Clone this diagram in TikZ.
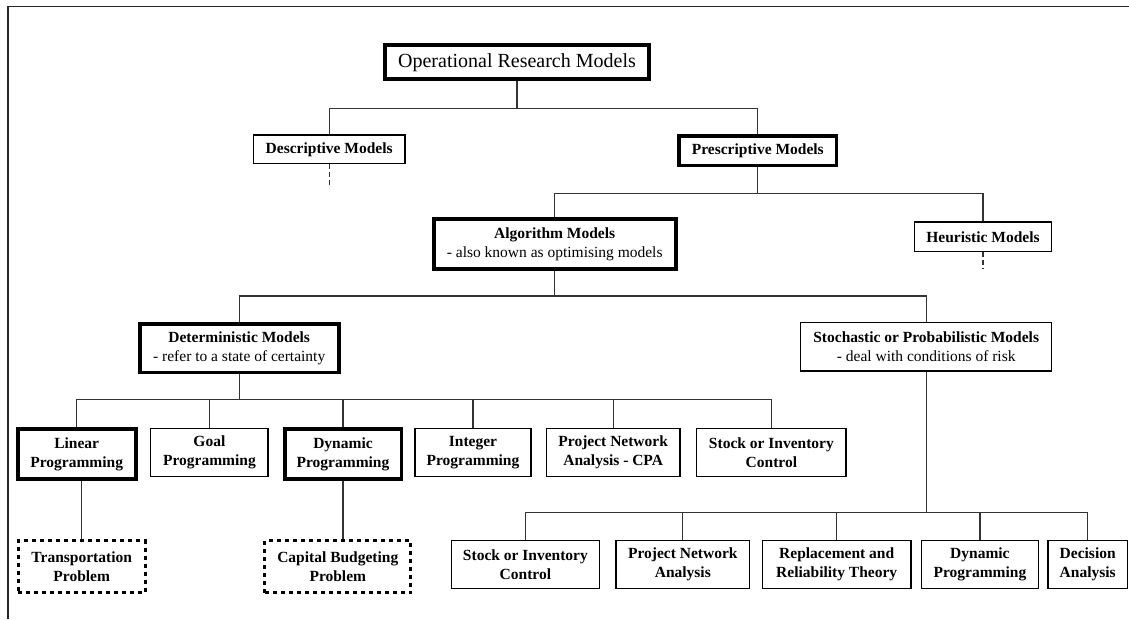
\documentclass[tikz,border=0pt]{standalone}
\usepackage{fontspec}
\setmainfont{Liberation Serif}
\begin{document}
\begin{tikzpicture}[x=1pt,y=-1pt,
  box/.style={draw=black, line width=1.3pt, rectangle, inner sep=0pt, align=center,
    font=\fontsize{15.5}{19}\selectfont\bfseries},
  thickbox/.style={box, line width=3.8pt},
  dotbox/.style={box, line width=3pt, dash pattern=on 4pt off 4pt},
  conn/.style={draw=black!80, line width=1.3pt},
  stub/.style={conn, dash pattern=on 5pt off 3pt},
  frameline/.style={draw=black!85, line width=1.5pt}]
\fill[white] (0,0) rectangle (1129,619);
\useasboundingbox (0,0) rectangle (1129,619);
% frame
\coordinate (fr1) at (8,619);
\coordinate (fr2) at (8,6.5);
\coordinate (fr3) at (1129,6.5);
\draw[frameline] (fr1) -- (fr2) -- (fr3);

% level 0
\node[thickbox, minimum width=263.6, minimum height=33.9, font=\fontsize{20}{24}\selectfont]
  (or) at (517,62.2) {Operational Research Models};
% level 1
\node[box, minimum width=151.7, minimum height=28.7] (desc) at (329.2,149.3) {Descriptive Models};
\node[thickbox, minimum width=157.2, minimum height=29.2] (presc) at (757.8,150.8) {Prescriptive Models};
% level 2
\node[thickbox, minimum width=242.2, minimum height=49.9] (alg) at (554.7,244.2)
  {Algorithm Models\\{\mdseries - also known as optimising models}};
\node[box, minimum width=137.3, minimum height=29.7] (heur) at (983,236.8) {Heuristic Models};
% level 3
\node[thickbox, minimum width=199.2, minimum height=48.8] (det) at (239.2,348)
  {Deterministic Models\\{\mdseries - refer to a state of certainty}};
\node[box, minimum width=251, minimum height=48.4] (stoch) at (926.2,346.9)
  {Stochastic or Probabilistic Models\\{\mdseries - deal with conditions of risk}};
% deterministic children
\node[thickbox, minimum width=118.2, minimum height=50.5] (lp) at (76.7,453.9) {Linear\\Programming};
\node[box, minimum width=117.4, minimum height=48.3] (goal) at (209.4,452.5) {Goal\\Programming};
\node[thickbox, minimum width=116.8, minimum height=50.5] (dyn) at (343,453.9) {Dynamic\\Programming};
\node[box, minimum width=116.1, minimum height=48.3] (int) at (473,452.5) {Integer\\Programming};
\node[box, minimum width=133.7, minimum height=48.3] (cpa) at (613.2,452.5) {Project Network\\Analysis - CPA};
\node[box, minimum width=149.4, minimum height=48.3] (stockd) at (771.4,452.5) {Stock or Inventory\\Control};
% dotted problems
\node[dotbox, minimum width=127, minimum height=51.7] (trans) at (81.7,566.7) {Transportation\\Problem};
\node[dotbox, minimum width=146, minimum height=51.7] (cap) at (337.8,566.7) {Capital Budgeting\\Problem};
% stochastic children
\node[box, minimum width=148, minimum height=48] (stocks) at (525.4,564.7) {Stock or Inventory\\Control};
\node[box, minimum width=133.7, minimum height=48] (pna) at (682.8,564.7) {Project Network\\Analysis};
\node[box, minimum width=148.7, minimum height=48] (repl) at (836.7,564.7) {Replacement and\\Reliability Theory};
\node[box, minimum width=117, minimum height=48] (dyns) at (979.9,564.7) {Dynamic\\Programming};
\node[box, minimum width=79.4, minimum height=48] (dec) at (1087.7,564.7) {Decision\\Analysis};

% connectors
\draw[conn] (or.south) -- ++(0,27.7) coordinate (b1);
\draw[conn] (b1) -| (desc.north);
\draw[conn] (b1) -| (presc.north);
\draw[stub] (desc.south) -- ++(0,24);

\draw[conn] (presc.south) -- ++(0,26.5) coordinate (b2);
\draw[conn] (b2) -| (alg.north);
\draw[conn] (b2) -| (heur.north);
\draw[stub] (heur.south) -- ++(0,17);

\draw[conn] (alg.south) -- ++(0,25) coordinate (b3);
\draw[conn] (b3) -| (det.north);
\draw[conn] (b3) -| (stoch.north);

\draw[conn] (det.south) -- ++(0,25) coordinate (b4);
\foreach \n in {lp,goal,dyn,int,cpa,stockd}{\draw[conn] (b4) -| (\n.north);}

\draw[conn] (trans.north) -- (trans.north |- lp.south);
\draw[conn] (dyn.south) -- (dyn.south |- cap.north);

\draw[conn] (stoch.south) -- ++(0,140.6) coordinate (b5);
\foreach \n in {stocks,pna,repl,dyns,dec}{\draw[conn] (b5) -| (\n.north);}
\end{tikzpicture}
\end{document}
